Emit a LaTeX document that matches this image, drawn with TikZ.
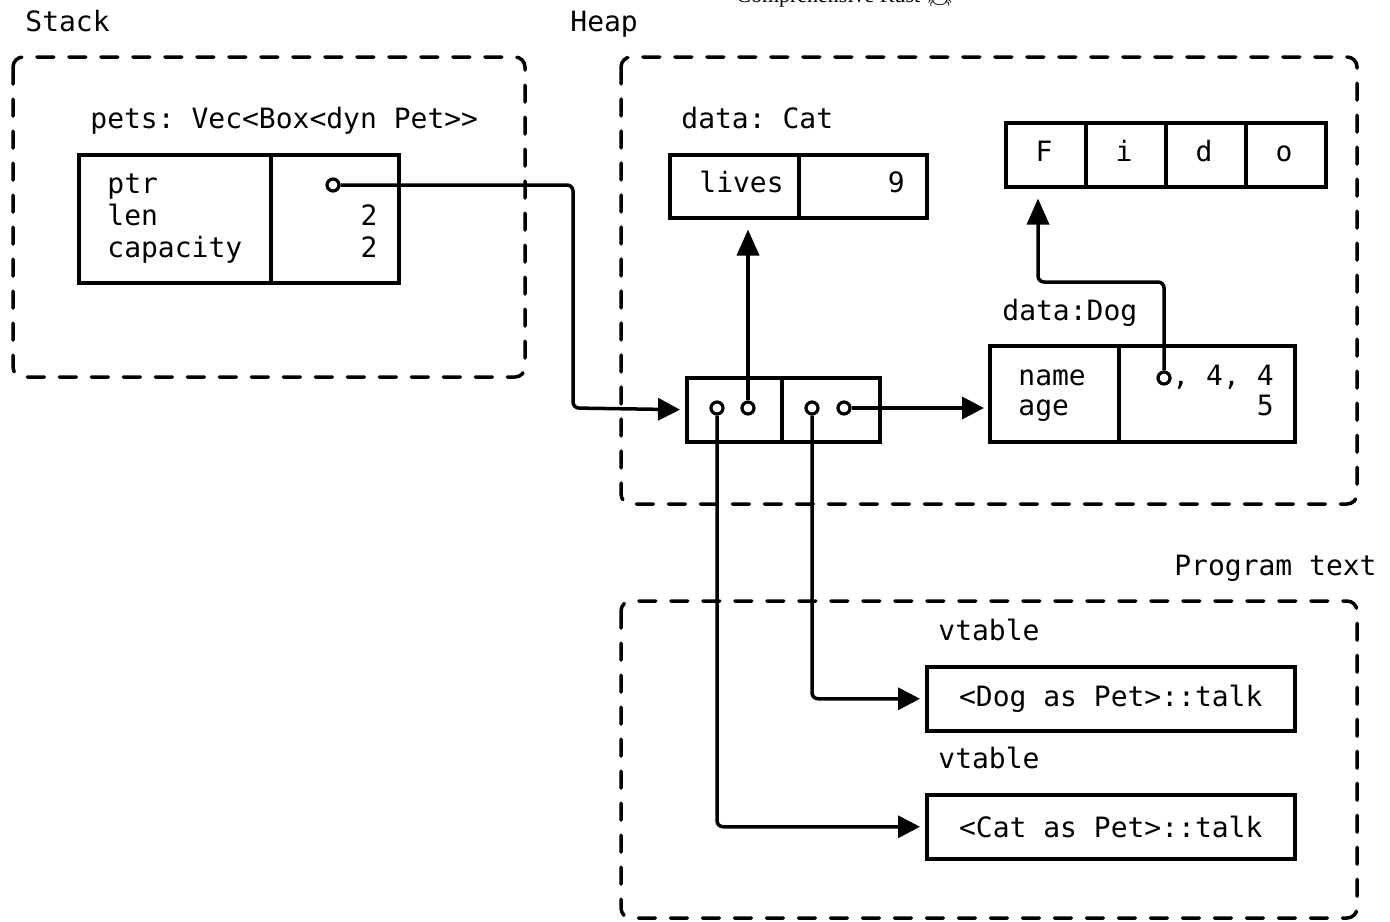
\documentclass[tikz,border=0pt]{standalone}
\usepackage{fontspec}
\setmainfont{DejaVu Sans Mono}[Ligatures=TeXOff]
\newfontfamily\titlefont{Liberation Serif}
\newfontfamily\emojifont{Noto Emoji}
\usetikzlibrary{arrows.meta}
\frenchspacing
\begin{document}
\begin{tikzpicture}[x=0.5pt,y=-0.5pt,
  font=\fontsize{14}{16}\selectfont,
  region/.style={draw, line width=1.75pt, dash pattern=on 8.5pt off 7.5pt, line cap=round, rounded corners=5pt},
  cell/.style={draw, line width=1.75pt, inner sep=0pt, anchor=north west},
  txt/.style={inner sep=0pt, anchor=base west},
  rtxt/.style={inner sep=0pt, anchor=base east},
  ctxt/.style={inner sep=0pt, anchor=base},
  dot/.style={circle, draw, fill=white, line width=1.6pt, inner sep=0pt, minimum size=6pt},
  conn/.style={line width=1.75pt, rounded corners=3pt, -{Triangle[length=11pt,width=11pt]}},
  vconn/.style={line width=1.75pt, rounded corners=3pt, -{Triangle[length=13pt,width=11pt]}}
]
\useasboundingbox (0,0) rectangle (1390,921);

% title (cut off at the top edge, as in the reference)
\node[ctxt, font=\titlefont\fontsize{11}{12}\selectfont] (title) at (845,3) {Comprehensive Rust {\emojifont 🦀}};

% regions
\draw[region] (13,57) rectangle (525,377);
\draw[region] (621,57) rectangle (1357,504);
\draw[region] (621,601) rectangle (1357,918);

% region labels
\node[txt] (stacklbl) at (25,32) {Stack};
\node[txt] (heaplbl) at (570,32) {Heap};
\node[rtxt] (proglbl) at (1377,575) {Program text};

% stack: pets
\node[txt] (petslbl) at (90,128) {pets: Vec<Box<dyn Pet>>};
\node[cell, minimum width=96pt, minimum height=64pt] (stkL) at (77,153) {};
\node[cell, minimum width=64pt, minimum height=64pt] (stkR) at (269,153) {};
\node[txt] (ptrlbl) at (107,193) {ptr};
\node[txt] (lenlbl) at (107,225) {len};
\node[txt] (caplbl) at (107,257) {capacity};
\node[rtxt] (lenv) at (378,225) {2};
\node[rtxt] (capv) at (378,257) {2};
\node[dot] (ptrc) at (333,185) {};

% heap: Cat
\node[txt] (catlbl) at (681,128) {data: Cat};
\node[cell, minimum width=64.5pt, minimum height=31.5pt] (catL) at (668,153) {};
\node[cell, minimum width=64pt, minimum height=31.5pt] (catR) at (797,153) {};
\node[txt] (liveslbl) at (699,192) {lives};
\node[rtxt] (ninev) at (905,192) {9};

% heap: Fido
\node[cell, minimum width=40pt, minimum height=32pt] (fido1) at (1004,121) {};
\node[cell, minimum width=40pt, minimum height=32pt] (fido2) at (1084,121) {};
\node[cell, minimum width=40pt, minimum height=32pt] (fido3) at (1164,121) {};
\node[cell, minimum width=40pt, minimum height=32pt] (fido4) at (1244,121) {};
\node[ctxt] (fF) at (1044,161) {F};
\node[ctxt] (fi) at (1124,161) {i};
\node[ctxt] (fd) at (1204,161) {d};
\node[ctxt] (fo) at (1284,161) {o};

% heap: Dog
\node[txt] (doglbl) at (1002,320) {data:Dog};
\node[cell, minimum width=64.5pt, minimum height=48pt] (dogL) at (988,344) {};
\node[cell, minimum width=88pt, minimum height=48pt] (dogR) at (1117,344) {};
\node[txt] (namelbl) at (1018,385) {name};
\node[txt] (agelbl) at (1018,415) {age};
\node[rtxt] (namev) at (1274,385) {, 4, 4};
\node[rtxt] (agev) at (1274,415) {5};
\node[dot] (dc) at (1164,378) {};

% heap: fat pointers
\node[cell, minimum width=47.5pt, minimum height=32pt] (fatL) at (685,376) {};
\node[cell, minimum width=49pt, minimum height=32pt] (fatR) at (780,376) {};
\node[dot] (c1) at (717,408) {};
\node[dot] (c2) at (748,408) {};
\node[dot] (c3) at (812,408) {};
\node[dot] (c4) at (844,408) {};

% program text: vtables
\node[txt] (vt1lbl) at (938,640) {vtable};
\node[cell, minimum width=184pt, minimum height=32pt] (dogvt) at (925,665) {<Dog as Pet>::talk};
\node[txt] (vt2lbl) at (938,768) {vtable};
\node[cell, minimum width=184pt, minimum height=32pt] (catvt) at (925,793) {<Cat as Pet>::talk};

% connectors
\coordinate (b1) at (573,408);
\draw[conn, shorten >=2.5pt] (ptrc) -| (b1) -- (fatL.west);
\draw[vconn, shorten >=5pt] (c2) -- (c2 |- catL.south);
\draw[conn, shorten >=2pt] (c4) -- (c4 -| dogL.west);
\draw[conn, shorten >=2.5pt] (c1) |- (catvt.west);
\draw[conn, shorten >=2.5pt] (c3) |- (dogvt.west);
\coordinate (b2) at (1164,282);
\coordinate (b3) at (1038,282);
\draw[vconn, shorten >=5pt] (dc) -- (b2) -- (b3) -- (b3 |- fido1.south);
\end{tikzpicture}
\end{document}
